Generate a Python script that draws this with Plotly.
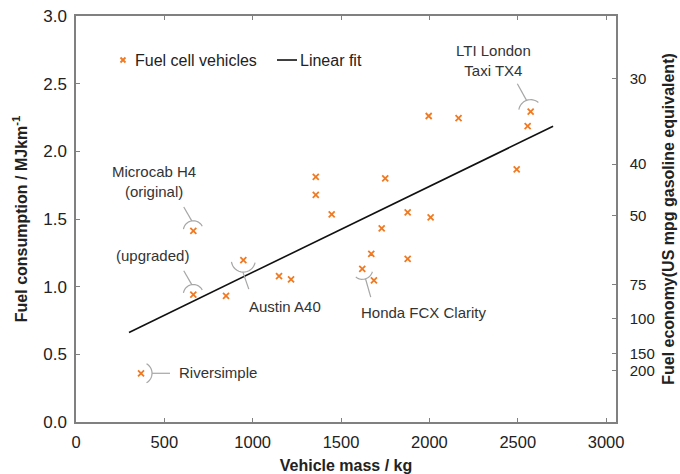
import math
import plotly.graph_objects as go

# ---------------- data ----------------
mass_kg = [368, 664, 664, 849, 947, 1149, 1217, 1357, 1357, 1447, 1750, 1877,
           2007, 1730, 1671, 1877, 1620, 1686, 1996, 2165, 2573, 2556, 2494]
fuel_mj_km = [0.36, 1.413, 0.942, 0.932, 1.196, 1.078, 1.054, 1.812, 1.679, 1.534,
              1.800, 1.549, 1.512, 1.430, 1.243, 1.206, 1.132, 1.046, 2.261, 2.246,
              2.293, 2.187, 1.867]
fit_x = [300, 2700]
fit_y = [0.662, 2.185]
mpg_ticks = [30, 40, 50, 75, 100, 150, 200]
MPG_CONST = 76.2  # MJ/km * mpg (gasoline equivalent)

label_texts = ["Riversimple", "Microcab H4<br>(original)", "(upgraded)",
               "Austin A40", "Honda FCX Clarity", "LTI London<br>Taxi TX4"]
label_point_idx = [0, 1, 2, 4, 16, 20]

# ---------------- style ----------------
ORANGE = "#f07a22"
AXC = "#808080"
TXT = "#222222"
CALL = "#a6a6a6"
FONT = "Arial, Liberation Sans, sans-serif"

fig = go.Figure()
fig.add_trace(go.Scatter(
    x=mass_kg, y=fuel_mj_km, mode="markers", name="Fuel cell vehicles",
    marker=dict(symbol="x-thin", size=6, line=dict(color=ORANGE, width=1.8), color=ORANGE),
    showlegend=False))
fig.add_trace(go.Scatter(
    x=fit_x, y=fit_y, mode="lines", name="Linear fit",
    line=dict(color="#111111", width=1.6), showlegend=False))
# trace to activate right axis (same data on mirrored scale, invisible)
fig.add_trace(go.Scatter(x=fit_x, y=fit_y, yaxis="y2", mode="lines",
                         line=dict(width=0), hoverinfo="skip", showlegend=False))

# ---------------- callouts (arc + leader) ----------------
# per label: arc direction, half span, radius, leader dir, leader length (pixels)
callout_style = [
    (0, 60, 11, 0, 18),
    (99, 72, 10, 120, 16),
    (99, 72, 10, 120, 16),
    (268, 80, 12, 289, 18),
    (288, 56, 10.5, 286, 19),
    (110, 60, 12, 119, 19),
]
shapes = []
for idx, (d, span, r, ld, ll) in zip(label_point_idx, callout_style):
    px, py = mass_kg[idx], fuel_mj_km[idx]
    pts = []
    n = 16
    for k in range(n + 1):
        a = math.radians(d - span + 2 * span * k / n)
        pts.append((r * math.cos(a), r * math.sin(a)))
    path = "M" + " L".join(f"{x:.2f},{y:.2f}" for x, y in pts)
    shapes.append(dict(type="path", path=path, xref="x", yref="y",
                       xsizemode="pixel", ysizemode="pixel", xanchor=px, yanchor=py,
                       line=dict(color=CALL, width=1.2)))
    sx, sy = r * math.cos(math.radians(d)), r * math.sin(math.radians(d))
    ex, ey = sx + ll * math.cos(math.radians(ld)), sy + ll * math.sin(math.radians(ld))
    shapes.append(dict(type="line", xref="x", yref="y", xsizemode="pixel", ysizemode="pixel",
                       xanchor=px, yanchor=py, x0=sx, y0=sy, x1=ex, y1=ey,
                       line=dict(color=CALL, width=1.2)))

# ---------------- manual legend ----------------
LX, LY = 0.087, 0.8916
shapes.append(dict(type="line", xref="paper", yref="paper", xsizemode="pixel", ysizemode="pixel",
                   xanchor=LX, yanchor=LY, x0=-2.5, x1=2.5, y0=-2.5, y1=2.5,
                   line=dict(color=ORANGE, width=1.8)))
shapes.append(dict(type="line", xref="paper", yref="paper", xsizemode="pixel", ysizemode="pixel",
                   xanchor=LX, yanchor=LY, x0=-2.5, x1=2.5, y0=2.5, y1=-2.5,
                   line=dict(color=ORANGE, width=1.8)))
shapes.append(dict(type="line", xref="paper", yref="paper", x0=0.3722, x1=0.4093, y0=LY, y1=LY,
                   line=dict(color="#111111", width=1.6)))

annotations = [
    dict(x=0.1055, y=LY, xref="paper", yref="paper", text="Fuel cell vehicles", showarrow=False,
         xanchor="left", yanchor="middle", font=dict(size=16, color=TXT, family=FONT)),
    dict(x=0.4105, y=LY, xref="paper", yref="paper", text="Linear fit", showarrow=False,
         xanchor="left", yanchor="middle", font=dict(size=16, color=TXT, family=FONT)),
]
label_pos = [(570, 0.364, "left"), (441, 1.78, "center"), (433, 1.233, "center"),
             (1180, 0.851, "center"), (1972, 0.806, "center"), (2364, 2.669, "center")]
for txt, (lx, ly, anc) in zip(label_texts, label_pos):
    annotations.append(dict(x=lx, y=ly, xref="x", yref="y", text=txt, showarrow=False,
                            xanchor=anc, yanchor="middle", align="center",
                            font=dict(size=15, color="#333333", family=FONT)))

fig.update_layout(
    width=680, height=474,
    margin=dict(l=76, r=64, t=16, b=52, autoexpand=False),
    paper_bgcolor="white", plot_bgcolor="white",
    font=dict(family=FONT, color=TXT),
    shapes=shapes, annotations=annotations,
    xaxis=dict(range=[0, 3056], tickvals=[0, 500, 1000, 1500, 2000, 2500, 3000],
               automargin=False,
               showgrid=False, zeroline=False, showline=True, linecolor=AXC, linewidth=1.5,
               mirror="ticks", ticks="inside", ticklen=4, tickcolor=AXC, tickwidth=1,
               tickfont=dict(size=16.5, color=TXT), ticklabelstandoff=4,
               title=dict(text="<b>Vehicle mass / kg</b>", font=dict(size=16, color=TXT), standoff=10)),
    yaxis=dict(range=[0, 3], tickvals=[0, 0.5, 1, 1.5, 2, 2.5, 3], tickformat=".1f",
               automargin=False,
               showgrid=False, zeroline=False, showline=True, linecolor=AXC, linewidth=1.5,
               ticks="inside", ticklen=4, tickcolor=AXC, tickwidth=1,
               tickfont=dict(size=17, color=TXT), ticklabelstandoff=4,
               title=dict(text="<b>Fuel consumption / MJkm<sup>-1</sup></b>",
                          font=dict(size=16, color=TXT), standoff=12)),
    yaxis2=dict(range=[0, 3], overlaying="y", side="right", automargin=False,
                tickvals=[MPG_CONST / m for m in mpg_ticks], ticktext=[str(m) for m in mpg_ticks],
                showgrid=False, zeroline=False, showline=True, linecolor=AXC, linewidth=1.5,
                ticks="inside", ticklen=4, tickcolor=AXC, tickwidth=1,
                tickfont=dict(size=15, color=TXT), ticklabelstandoff=9,
                title=dict(text="<b>Fuel economy(US mpg gasoline equivalent)</b>",
                           font=dict(size=16, color=TXT), standoff=9)),
)

fig.write_html("out.html")
